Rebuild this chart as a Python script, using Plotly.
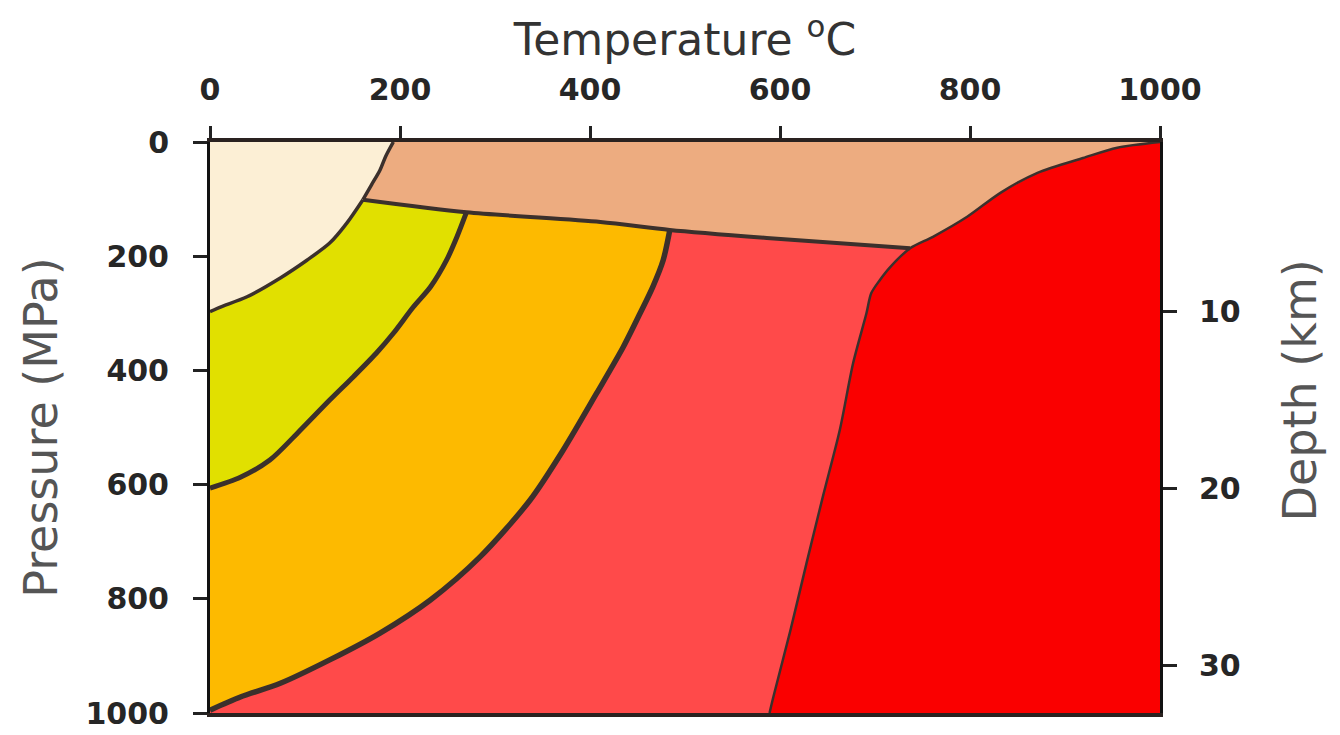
import plotly.graph_objects as go

# ---- data (Temperature °C, Pressure MPa) ----
# cream / peach boundary
c1_T = [193, 185, 179, 170, 161]
c1_P = [0, 25, 49, 75, 101]
# cream / yellow boundary
c2_T = [161, 144, 126, 102, 74, 39, 11, 0]
c2_P = [101, 142, 177, 207, 238, 271, 289, 297]
# yellow / orange boundary
c3_T = [270, 260, 249, 232, 214, 193, 175, 151, 126, 92, 63, 32, 0]
c3_P = [123, 166, 207, 254, 289, 335, 370, 411, 452, 510, 557, 587, 606]
# orange / light-red boundary
c4_T = [484, 477, 466, 453, 435, 407, 372, 337, 284, 232, 179, 126, 74, 32, 0]
c4_P = [154, 207, 254, 299, 359, 440, 539, 627, 727, 802, 860, 907, 948, 972, 995]
# peach lower boundary (line)
c5_T = [161, 270, 411, 484, 586, 737]
c5_P = [101, 123, 140, 154, 168, 186]
# red region boundary
c6_T = [1000, 955, 919, 871, 832, 797, 761, 737, 716, 705, 696, 691, 677, 663, 645, 628, 611, 593, 589]
c6_P = [0, 10, 28, 54, 89, 131, 166, 186, 219, 242, 265, 300, 387, 504, 622, 737, 855, 972, 1000]

T_MIN, T_MAX = 0, 1000
P_MIN, P_MAX = 0, 1000
temp_ticks = [0, 200, 400, 600, 800, 1000]
press_ticks = [0, 200, 400, 600, 800, 1000]
depth_ticks = [10, 20, 30]
depth_range = [32.7, 0.45]   # depth (km) at P_MAX and P_MIN

colors = {
    "cream": "#FCEFD5",
    "peach": "#EDAC80",
    "yellow": "#E1E000",
    "orange": "#FDBA00",
    "lightred": "#FF4A4A",
    "red": "#FA0000",
}
edge = "#3B302C"


def rev(a):
    return list(reversed(a))


i_c5_270 = c5_T.index(270)
i_c5_484 = c5_T.index(484)
i_c6_737 = c6_T.index(737)

regions = {
    "cream": (
        [T_MIN] + c1_T + c2_T[1:],
        [P_MIN] + c1_P + c2_P[1:],
    ),
    "peach": (
        [c1_T[0]] + c6_T[: i_c6_737 + 1] + rev(c5_T)[1:] + rev(c1_T)[1:],
        [c1_P[0]] + c6_P[: i_c6_737 + 1] + rev(c5_P)[1:] + rev(c1_P)[1:],
    ),
    "yellow": (
        c2_T + rev(c3_T) + rev(c5_T[: i_c5_270 + 1])[1:],
        c2_P + rev(c3_P) + rev(c5_P[: i_c5_270 + 1])[1:],
    ),
    "orange": (
        c3_T + rev(c4_T) + rev(c5_T[i_c5_270 : i_c5_484 + 1])[1:],
        c3_P + rev(c4_P) + rev(c5_P[i_c5_270 : i_c5_484 + 1])[1:],
    ),
    "lightred": (
        c4_T + [T_MIN] + rev(c6_T[i_c6_737:]) + rev(c5_T[i_c5_484:])[1:],
        c4_P + [P_MAX] + rev(c6_P[i_c6_737:]) + rev(c5_P[i_c5_484:])[1:],
    ),
    "red": (
        c6_T + [T_MAX],
        c6_P + [P_MAX],
    ),
}

fig = go.Figure()
for name, (xs, ys) in regions.items():
    fig.add_trace(go.Scatter(
        x=xs, y=ys, mode="lines", fill="toself",
        fillcolor=colors[name], line=dict(width=0, color=colors[name]),
        hoverinfo="skip", showlegend=False,
    ))

for (xs, ys, w) in [
    (c1_T, c1_P, 3.5),
    (c2_T, c2_P, 3.5),
    (c3_T, c3_P, 5),
    (c4_T, c4_P, 5.5),
    (c5_T, c5_P, 4),
    (c6_T, c6_P, 2.5),
]:
    fig.add_trace(go.Scatter(
        x=xs, y=ys, mode="lines", line=dict(width=w, color=edge, shape="spline", smoothing=0.8),
        hoverinfo="skip", showlegend=False,
    ))

# invisible trace so the depth axis is drawn
fig.add_trace(go.Scatter(
    x=[T_MAX] * len(depth_ticks), y=depth_ticks, yaxis="y2", mode="markers",
    marker=dict(opacity=0), hoverinfo="skip", showlegend=False,
))

tick_font = dict(family="DejaVu Sans", size=30, color="#262626", weight="bold")

fig.update_layout(
    width=1340, height=735,
    margin=dict(l=202, r=188, t=134, b=30),
    paper_bgcolor="white", plot_bgcolor="white",
    xaxis=dict(
        side="top", range=[T_MIN, T_MAX], tickvals=temp_ticks, automargin=False,
        ticks="outside", ticklen=12, tickwidth=3, tickcolor="#222",
        showline=True, linewidth=4, linecolor="#2a2220", mirror=True,
        showgrid=False, zeroline=False, tickfont=tick_font, ticklabelstandoff=14,
        title=dict(text="Temperature <sup>o</sup>C", standoff=16,
                   font=dict(family="DejaVu Sans", size=44, color="#333")),
    ),
    yaxis=dict(
        range=[P_MAX, P_MIN], tickvals=press_ticks, automargin=False,
        ticks="outside", ticklen=14, tickwidth=3, tickcolor="#222",
        showline=True, linewidth=3, linecolor="#111",
        showgrid=False, zeroline=False, tickfont=tick_font, ticklabelstandoff=18,
        title=dict(text="Pressure (MPa)", standoff=14,
                   font=dict(family="DejaVu Sans", size=46, color="#555")),
    ),
    yaxis2=dict(
        overlaying="y", side="right", range=depth_range, tickvals=depth_ticks,
        automargin=False,
        ticks="outside", ticklen=14, tickwidth=3, tickcolor="#222",
        showline=True, linewidth=3, linecolor="#111",
        showgrid=False, zeroline=False, tickfont=tick_font, ticklabelstandoff=16,
    ),
    annotations=[dict(
        text="Depth (km)", textangle=-90, xref="paper", yref="paper",
        x=1.0, xshift=140, y=0.565, yanchor="middle", xanchor="center",
        showarrow=False, font=dict(family="DejaVu Sans", size=46, color="#555"),
    )],
)

fig.write_html("out.html")
